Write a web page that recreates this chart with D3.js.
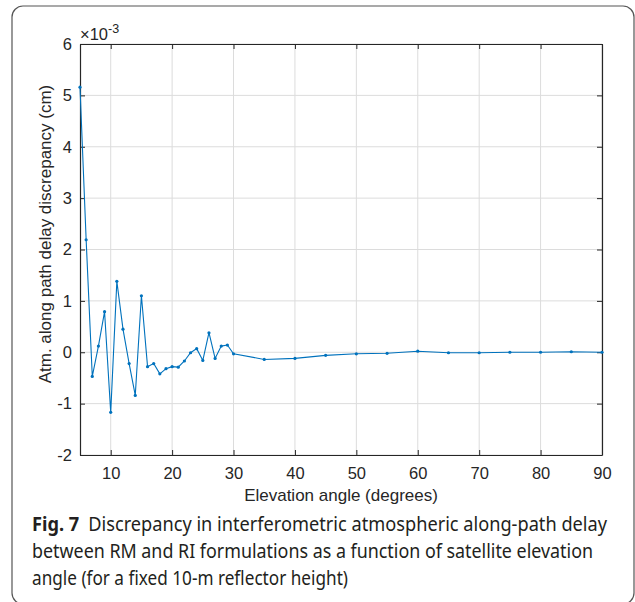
<!DOCTYPE html>
<html>
<head>
<meta charset="utf-8">
<script src="https://cdn.jsdelivr.net/npm/d3@7"></script>
<style>
body { margin: 0; background: #fff; }
svg { display: block; }
</style>
</head>
<body>
<svg id="chart" width="635" height="602"></svg>
<script>
// elevation angle (degrees) and discrepancy (units of 1e-3 cm)
const angles = [5, 6, 7, 8, 9, 10, 11, 12, 13, 14, 15, 16, 17, 18, 19, 20,
  21, 22, 23, 24, 25, 26, 27, 28, 29, 30, 35, 40, 45, 50, 55, 60, 65, 70, 75, 80, 85, 90];
const discrepancy = [5.16, 2.19, -0.47, 0.12, 0.79, -1.17, 1.38, 0.45, -0.22, -0.84, 1.10, -0.28,
  -0.22, -0.42, -0.32, -0.28, -0.29, -0.17, -0.01, 0.07, -0.16, 0.38, -0.12, 0.12, 0.14, -0.03,
  -0.14, -0.12, -0.06, -0.03, -0.02, 0.02, -0.01, -0.01, 0.0, 0.0, 0.01, 0.0];
const xTicks = [10, 20, 30, 40, 50, 60, 70, 80, 90];
const yTicks = [-2, -1, 0, 1, 2, 3, 4, 5, 6];
const caption = [
  "Discrepancy in interferometric atmospheric along-path delay",
  "between RM and RI formulations as a function of satellite elevation",
  "angle (for a fixed 10-m reflector height)"
];

const svg = d3.select("#chart");
const m = {left: 80, right: 602, top: 44, bottom: 455};

// outer rounded frame (bottom edge falls just below the picture)
svg.append("rect")
  .attr("x", 12).attr("y", 6).attr("width", 622).attr("height", 598).attr("rx", 11)
  .attr("fill", "none").attr("stroke", "#555").attr("stroke-width", 1.2);

const x = d3.scaleLinear().domain([5, 90]).range([m.left, m.right]);
const y = d3.scaleLinear().domain([-2, 6]).range([m.bottom, m.top]);

const font = "Liberation Sans, Arial, sans-serif";

// grid
svg.append("g").selectAll("line").data(xTicks).join("line")
  .attr("x1", d => x(d)).attr("x2", d => x(d))
  .attr("y1", m.top).attr("y2", m.bottom)
  .attr("stroke", "#dcdcdc").attr("stroke-width", 1);
svg.append("g").selectAll("line").data(yTicks).join("line")
  .attr("x1", m.left).attr("x2", m.right)
  .attr("y1", d => y(d)).attr("y2", d => y(d))
  .attr("stroke", "#dcdcdc").attr("stroke-width", 1);

// axes (ticks pointing inward)
const fmt = d => String(d);
const xAxis = svg.append("g").attr("transform", `translate(0,${m.bottom})`)
  .call(d3.axisBottom(x).tickValues(xTicks).tickFormat(fmt).tickSizeInner(-5).tickSizeOuter(0).tickPadding(12));
const xAxisTop = svg.append("g").attr("transform", `translate(0,${m.top})`)
  .call(d3.axisTop(x).tickValues(xTicks).tickSizeInner(-5).tickSizeOuter(0).tickFormat(""));
const yAxis = svg.append("g").attr("transform", `translate(${m.left},0)`)
  .call(d3.axisLeft(y).tickValues(yTicks).tickFormat(fmt).tickSizeInner(-5).tickSizeOuter(0).tickPadding(8));
const yAxisRight = svg.append("g").attr("transform", `translate(${m.right},0)`)
  .call(d3.axisRight(y).tickValues(yTicks).tickSizeInner(-5).tickSizeOuter(0).tickFormat(""));

[xAxis, xAxisTop, yAxis, yAxisRight].forEach(g => {
  g.select(".domain").attr("stroke", "#262626").attr("stroke-width", 1.2);
  g.selectAll(".tick line").attr("stroke", "#262626");
  g.selectAll("text").attr("font-family", font).attr("font-size", 16.5).attr("fill", "#262626");
});

// line + markers
const line = d3.line().x((d, i) => x(angles[i])).y(d => y(d));
svg.append("path").datum(discrepancy)
  .attr("d", line).attr("fill", "none")
  .attr("stroke", "#0072BD").attr("stroke-width", 1.1);
svg.append("g").selectAll("circle").data(discrepancy).join("circle")
  .attr("cx", (d, i) => x(angles[i])).attr("cy", d => y(d))
  .attr("r", 1.6).attr("fill", "#0072BD");

// exponent
const ex = svg.append("text").attr("x", 80).attr("y", 40)
  .attr("font-family", font).attr("font-size", 16.5).attr("fill", "#262626");
ex.append("tspan").text("×10");
ex.append("tspan").attr("dy", -7).attr("font-size", 12.5).text("-3");

// axis labels
svg.append("text").attr("x", (m.left + m.right) / 2).attr("y", 501)
  .attr("text-anchor", "middle").attr("font-family", font).attr("font-size", 17)
  .attr("fill", "#262626").text("Elevation angle (degrees)");
svg.append("text")
  .attr("transform", "translate(51,234) rotate(-90)")
  .attr("text-anchor", "middle").attr("font-family", font).attr("font-size", 17)
  .attr("fill", "#262626").text("Atm. along path delay discrepancy (cm)");

// caption
const capFont = "Noto Sans, Open Sans, sans-serif";
const c1 = svg.append("text").attr("x", 32).attr("y", 531)
  .attr("font-family", capFont).attr("font-size", 19).attr("fill", "#231f20")
  .attr("textLength", 575).attr("lengthAdjust", "spacingAndGlyphs");
c1.append("tspan").attr("font-weight", "bold").text("Fig. 7");
c1.append("tspan").text("\u2002" + caption[0]);
svg.append("text").attr("x", 32).attr("y", 558)
  .attr("font-family", capFont).attr("font-size", 19).attr("fill", "#231f20")
  .attr("textLength", 561).attr("lengthAdjust", "spacingAndGlyphs").text(caption[1]);
svg.append("text").attr("x", 32).attr("y", 585)
  .attr("font-family", capFont).attr("font-size", 19).attr("fill", "#231f20")
  .attr("textLength", 316).attr("lengthAdjust", "spacingAndGlyphs").text(caption[2]);
</script>
</body>
</html>
